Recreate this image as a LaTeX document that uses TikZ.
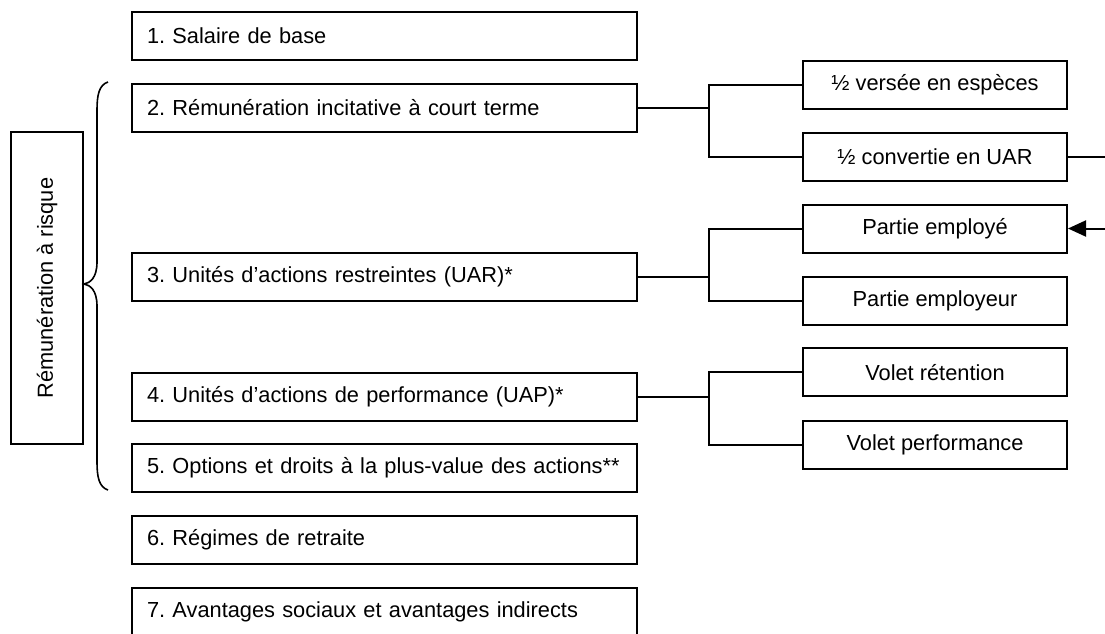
\documentclass[tikz,border=0pt]{standalone}
\usepackage{fontspec}
\setmainfont{Liberation Sans}
\usepackage{tikz}
\usetikzlibrary{arrows.meta}

\begin{document}
\begin{tikzpicture}[x=0.5pt, y=-0.5pt, line width=1pt,
  every node/.style={font=\fontsize{10.9}{12}\selectfont},
  mainbox/.style={draw, anchor=west, minimum width=252.5pt, minimum height=24pt,
    text width=237.5pt, inner xsep=7.5pt, align=left},
  sidebox/.style={draw, minimum width=132pt, minimum height=24pt}]
 \useasboundingbox (0,0) rectangle (1105,633);
 % main list
 \node[mainbox] (b1) at (131,36) {1.\ Salaire de base};
 \node[mainbox] (b2) at (131,108) {2.\ Rémunération incitative à court terme};
 \node[mainbox] (b3) at (131,277) {3.\ Unités d’actions restreintes (UAR)*};
 \node[mainbox] (b4) at (131,397) {4.\ Unités d’actions de performance (UAP)*};
 \node[mainbox] (b5) at (131,468) {5.\ Options et droits à la plus-value des actions**};
 \node[mainbox] (b6) at (131,540) {6.\ Régimes de retraite};
 \node[mainbox] (b7) at (131,612) {7.\ Avantages sociaux et avantages indirects};
 % side boxes
 \node[sidebox] (r1) at (935,84.5) {½ versée en espèces};
 \node[sidebox] (r2) at (935,156.7) {½ convertie en UAR};
 \node[sidebox] (r3) at (935,228.5) {Partie employé};
 \node[sidebox] (r4) at (935,300.7) {Partie employeur};
 \node[sidebox] (r5) at (935,372.3) {Volet rétention};
 \node[sidebox] (r6) at (935,444.5) {Volet performance};
 % risk box and brace
 \node[draw, minimum width=36pt, minimum height=156pt] (risk) at (47,288) {};
 \node[rotate=90] (risklbl) at (risk.center) {Rémunération à risque};
 \draw[line width=0.8pt] (108,82) .. controls (99,85) and (97,95) .. (97,110) -- (97,262)
   .. controls (97,278) and (90,283) .. (risk.east |- 0,284)
   .. controls (90,285) and (97,290) .. (97,306) -- (97,462)
   .. controls (97,477) and (99,487) .. (108,490);
 % forks
 \draw (b2.east) -- ++(71,0) coordinate (f2);
 \draw (f2) |- (r1.west);
 \draw (f2) |- (r2.west);
 \draw (b3.east) -- ++(71,0) coordinate (f3);
 \draw (f3) |- (r3.west);
 \draw (f3) |- (r4.west);
 \draw (b4.east) -- ++(71,0) coordinate (f4);
 \draw (f4) |- (r5.west);
 \draw (f4) |- (r6.west);
 % UAR part back to employee part
 \coordinate (edge) at (1115,156.7);
 \draw[-{Triangle[length=9pt,width=8pt]}] (r2.east) -- (edge) |- (r3.east);
\end{tikzpicture}
\end{document}
